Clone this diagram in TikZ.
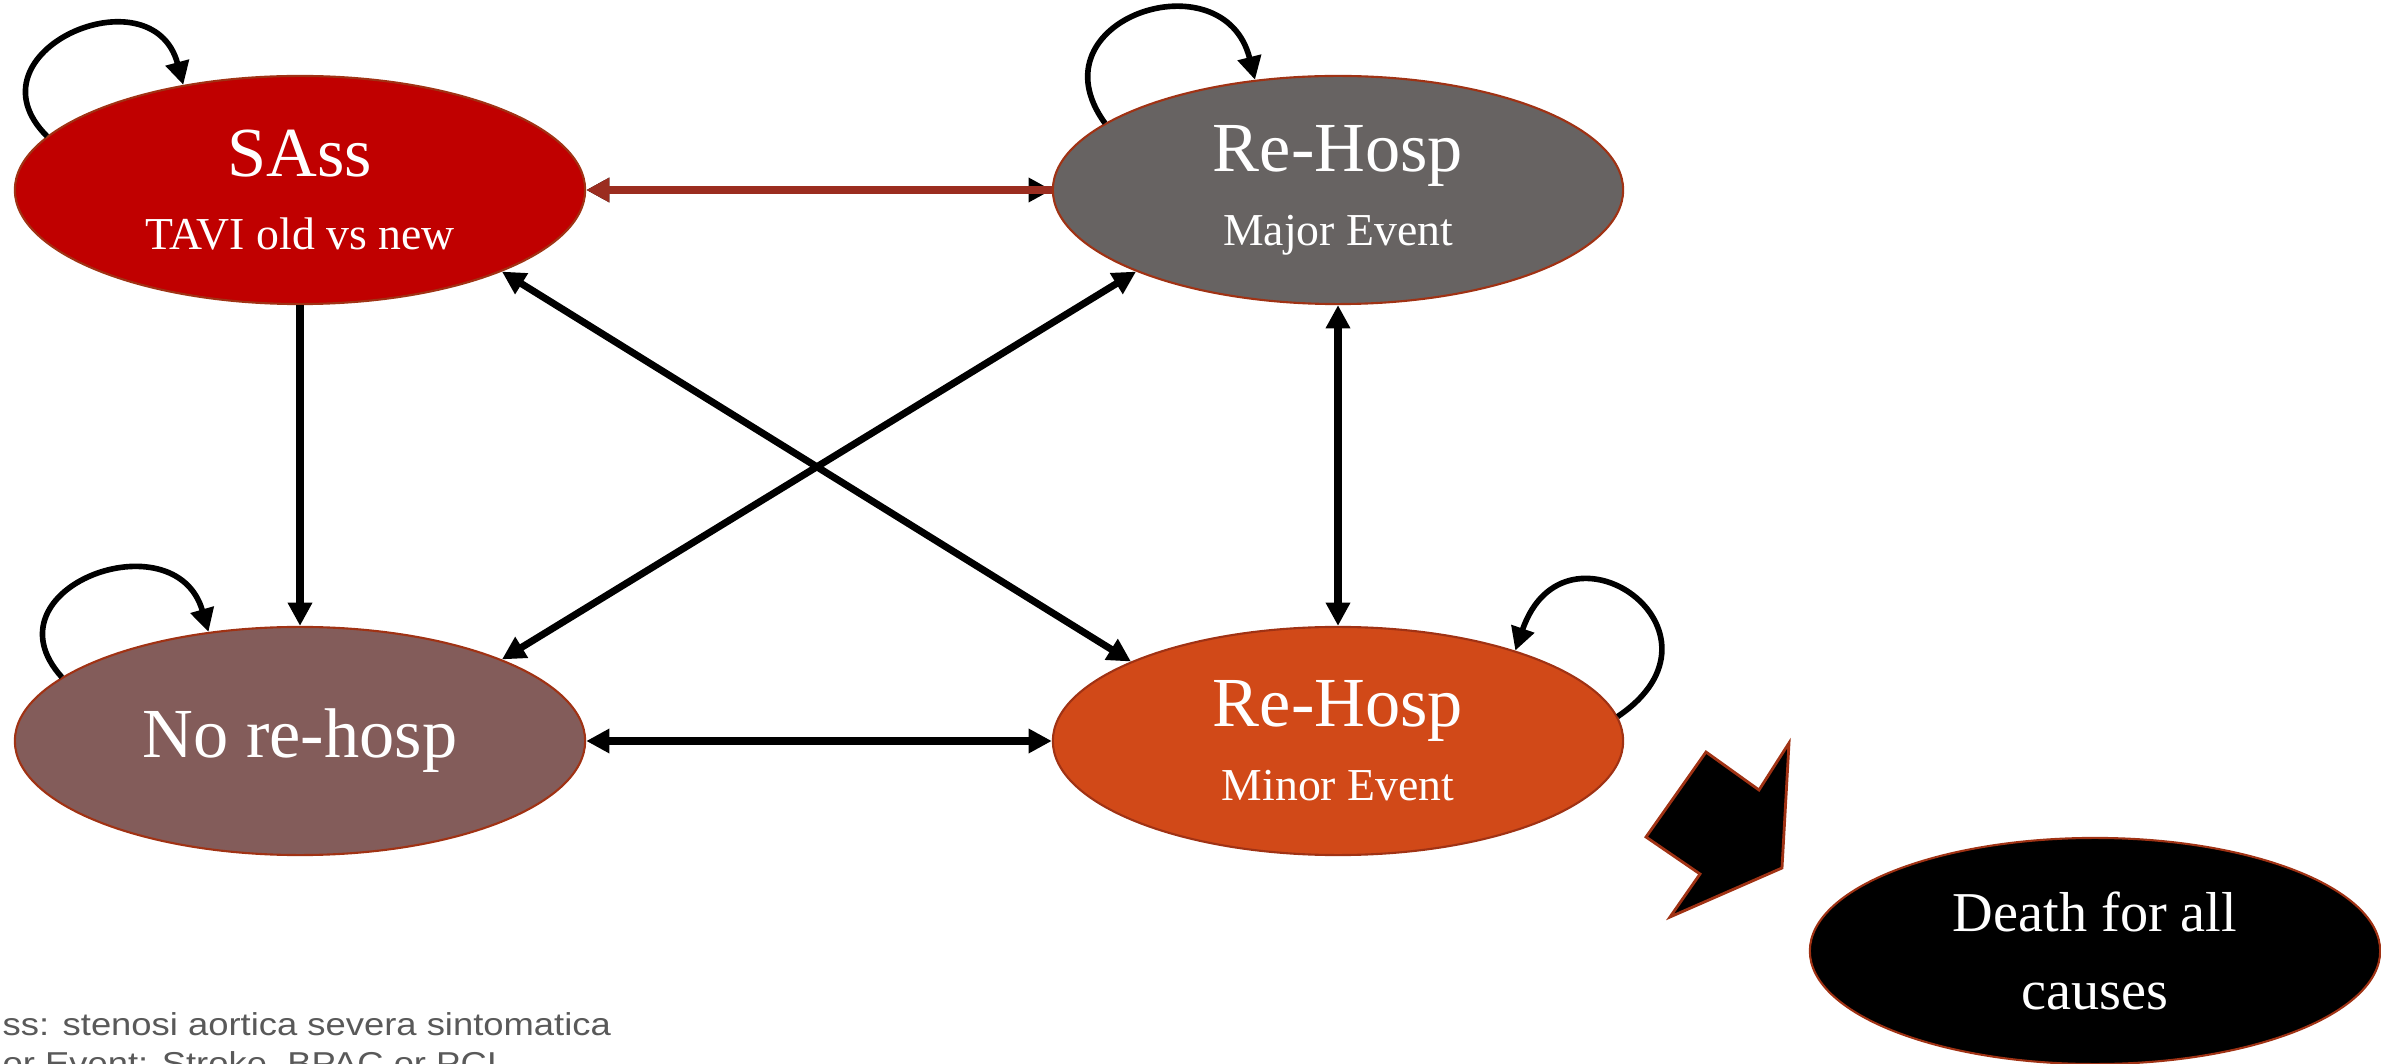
\documentclass[tikz,border=0pt]{standalone}
\usepackage{fontspec}
\setmainfont{Liberation Serif}
\newfontfamily\legendfont{Liberation Sans}
\usetikzlibrary{shapes,arrows.meta}

\definecolor{sassred}{RGB}{192,0,0}
\definecolor{majorgray}{RGB}{103,99,98}
\definecolor{norebrown}{RGB}{131,92,90}
\definecolor{minororange}{RGB}{209,73,24}
\definecolor{rim}{RGB}{160,50,20}
\definecolor{redline}{RGB}{155,45,32}
\definecolor{legendgray}{RGB}{89,89,89}

\begin{document}
\begin{tikzpicture}[x=0.01cm, y=-0.01cm,
		>={Triangle[length=6.6pt,width=6.6pt]},
		state/.style={draw=rim, line width=0.6pt, ellipse, text=white, inner sep=0pt, minimum width=5.7cm, minimum height=2.28cm, align=center, font=\fontsize{20}{21}\selectfont},
		conn/.style={line width=2pt},
		loopy/.style={line width=1.6pt}]
			\useasboundingbox (0, 0) rectangle (2381, 1064);
			\node[state, fill=sassred] (sass) at (300, 190) {SAss\\\fontsize{13}{21}\selectfont TAVI old vs new};
			\node[state, fill=majorgray] (major) at (1338, 190) {Re-Hosp\\\fontsize{13}{21}\selectfont Major Event};
			\node[state, fill=norebrown] (norehosp) at (300, 741) {\raisebox{-3pt}{No re-hosp}};
			\node[state, fill=minororange] (minor) at (1338, 741) {Re-Hosp\\\fontsize{13}{21}\selectfont Minor Event};
			\node[state, fill=black, minimum height=2.26cm, font=\fontsize{16}{22}\selectfont] (death) at (2095, 951) {Death for all\\causes};
			\node[anchor=north west, inner sep=0pt, text=legendgray, align=left, font=\legendfont\fontsize{9}{11}\selectfont] (legend) at (2, 1012) {\scalebox{1.15}[1]{ss: stenosi aortica severa sintomatica}\\\scalebox{1.15}[1]{or Event: Stroke, BPAC or PCI}};
			\draw[conn, <->] (sass) -- (major);
			\draw[conn, redline, ->] (major) -- (sass);
			\draw[conn, ->] (sass) -- (norehosp);
			\draw[conn, <->] (major) -- (minor);
			\draw[conn, <->] (norehosp) -- (minor);
			\draw[conn, <->] (sass.-22) -- (minor.159);
			\draw[conn, <->] (norehosp.22) -- (major.-158);
			\draw[loopy, ->] (sass.168) to[out=135, in=105, looseness=2.1] (sass.138);
			\draw[loopy, ->] (major.164) to[out=126, in=104, looseness=2.1] (major.127);
			\draw[loopy, ->] (norehosp.165) to[out=132, in=106, looseness=2.0] (norehosp.130);
			\draw[loopy, ->] (minor.5) to[out=34, in=71, looseness=3.2] (minor.27);
			\draw[rim, fill=black, line width=0.8pt] (1706, 752) -- (1759, 790) -- (1789, 743) -- (1782, 868) -- (1670, 917) -- (1700, 874) -- (1646, 837) -- cycle;
\end{tikzpicture}
\end{document}
